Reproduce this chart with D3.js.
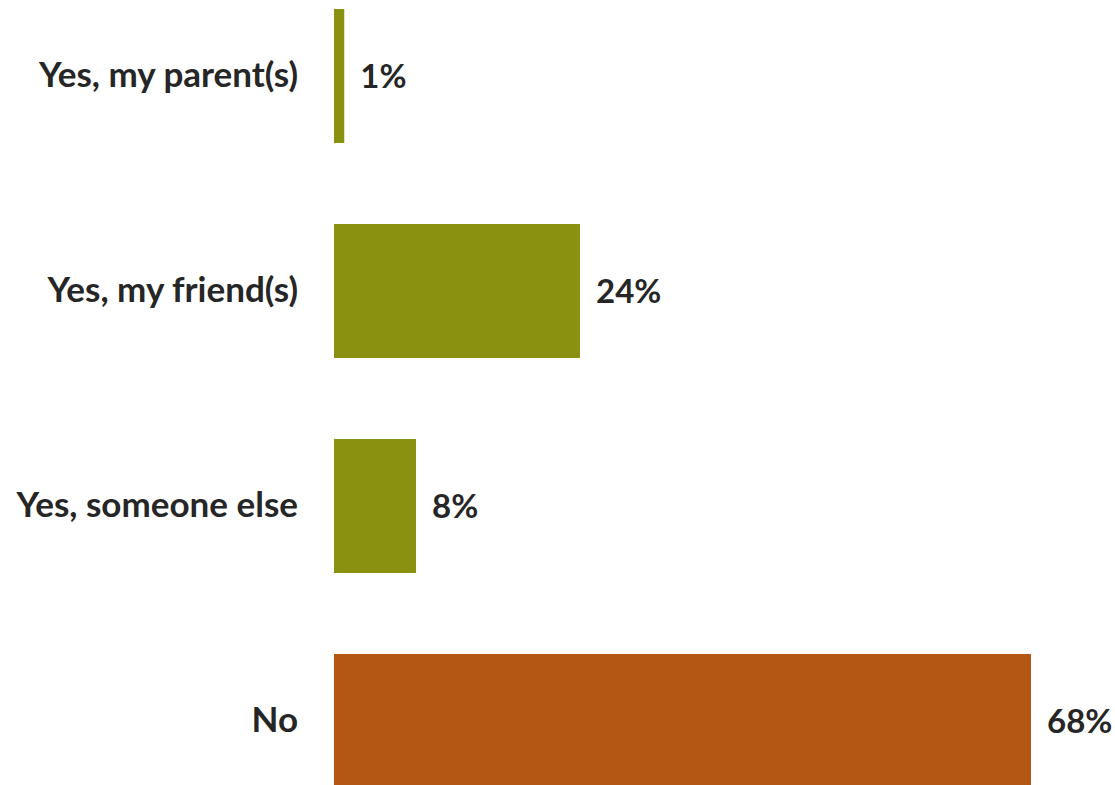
<!DOCTYPE html>
<html><head><meta charset="utf-8">
<script src="https://cdn.jsdelivr.net/npm/d3@7"></script>
<style>
html,body{margin:0;padding:0;background:#fff;overflow:hidden}
text{font-family:Lato,"Open Sans",sans-serif;font-weight:bold;fill:#262626}
</style></head>
<body><svg id="c" width="1115" height="785"></svg>
<script>
const categories = ["Yes, my parent(s)", "Yes, my friend(s)", "Yes, someone else", "No"];
const values = [1, 24, 8, 68];
const colors = ["#8a9010", "#8a9010", "#8a9010", "#b45715"];

const svg = d3.select("#c");
const x = d3.scaleLinear().domain([0, 100]).range([334, 334 + 1025]);
const y = d3.scaleBand().domain(categories).range([9, 788]).paddingInner(0.3767).paddingOuter(0);

svg.selectAll("rect.bar").data(categories).join("rect")
  .attr("class", "bar")
  .attr("x", x(0))
  .attr("y", d => y(d))
  .attr("width", (d, i) => x(values[i]) - x(0))
  .attr("height", y.bandwidth())
  .attr("fill", (d, i) => colors[i]);

const yAxis = d3.axisLeft(y).tickSize(0).tickPadding(36);
const ag = svg.append("g").attr("transform", `translate(${x(0)},0)`).call(yAxis);
ag.select(".domain").remove();
ag.selectAll("text").attr("font-size", 35).attr("fill", "#262626").attr("font-family", null);

svg.selectAll("text.val").data(categories).join("text")
  .attr("class", "val")
  .attr("x", (d, i) => x(values[i]) + 16)
  .attr("y", d => y(d) + y.bandwidth() / 2)
  .attr("dy", "0.35em")
  .attr("font-size", 33)
  .text((d, i) => values[i] + "%");
</script></body></html>
